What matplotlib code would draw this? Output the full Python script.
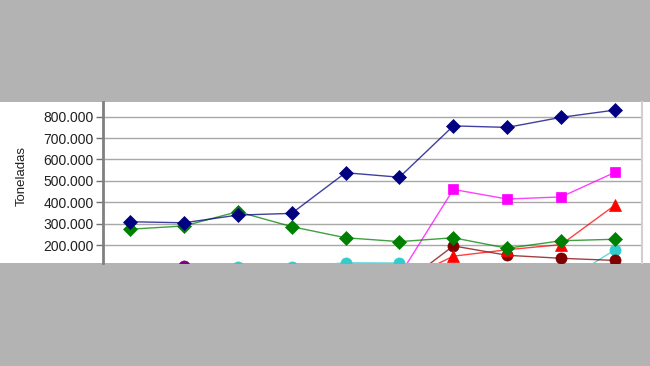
import matplotlib
matplotlib.use("Agg")
import matplotlib.pyplot as plt
from matplotlib.patches import Rectangle
from matplotlib.ticker import FixedLocator

plt.rcParams['font.family'] = ['Liberation Sans', 'DejaVu Sans']

# categories (x labels are cut off in the reference, only the positions remain)
periods = list(range(10))

# series values in tonnes (low values are below the visible area)
serie_navy = [309000, 304000, 340000, 348000, 538000, 517000, 757000, 750000, 797000, 831000]
serie_green = [274000, 289000, 356000, 286000, 234000, 216000, 234000, 185000, 220000, 227000]
serie_magenta = [20000, 25000, 30000, 35000, 40000, 57000, 460000, 415000, 425000, 540000]
serie_red = [10000, 12000, 15000, 18000, 20000, 25000, 148000, 178000, 202000, 387000]
serie_maroon = [8000, 10000, 12000, 14000, 16000, 5000, 196000, 152000, 138000, 128000]
serie_cyan = [60000, 80000, 96000, 96000, 117000, 116000, 90000, 55000, 20000, 178000]
serie_purple = [80000, 101000, 85000, 70000, 60000, 50000, 40000, 30000, 25000, 20000]

ytick_values = [200000, 300000, 400000, 500000, 600000, 700000, 800000]
ytick_labels = ["200.000", "300.000", "400.000", "500.000", "600.000", "700.000", "800.000"]

fig = plt.figure(figsize=(6.5, 3.66), dpi=100)
fig.patch.set_facecolor('#b3b3b3')

# white band of the visible chart area
band = Rectangle((0, 103 / 366), 1, 161 / 366, transform=fig.transFigure,
                 facecolor='white', edgecolor='none', zorder=-10)
fig.add_artist(band)

ax = fig.add_axes([103 / 650, 103 / 366, 539 / 650, 161 / 366])
ax.set_zorder(1)
ax.set_facecolor('white')

styles = [
    (serie_purple, '#800080', 'o', 8),
    (serie_cyan, '#33cccc', 'o', 8),
    (serie_maroon, '#800000', 'o', 8),
    (serie_red, '#ff0000', '^', 8),
    (serie_magenta, '#ff00ff', 's', 7.5),
    (serie_green, '#008000', 'D', 7),
    (serie_navy, '#000080', 'D', 7),
]
for i, (values, color, marker, size) in enumerate(styles):
    ax.plot(periods, values, color=color, lw=1.0, alpha=0.75, zorder=3 + i * 0.1)
    ax.plot(periods, values, linestyle='none', marker=marker, markersize=size,
            markerfacecolor=color, markeredgecolor=color, markeredgewidth=0.5,
            zorder=3 + i * 0.1 + 0.05)

ax.set_xlim(-0.5, 9.5)
ax.set_ylim(116000, 868700)
ax.yaxis.set_major_locator(FixedLocator(ytick_values))
ax.set_yticklabels(ytick_labels, fontsize=10, color='#202020')
ax.set_xticks([])
ax.grid(axis='y', color='#a8a8a8', lw=1.0)
ax.set_axisbelow(True)
ax.tick_params(axis='y', length=5, width=1, color='#707070', pad=1.5)

for side in ['top', 'bottom']:
    ax.spines[side].set_visible(False)
ax.spines['left'].set_color('#808080')
ax.spines['left'].set_linewidth(2)
ax.spines['right'].set_color('#d0d0d0')
ax.spines['right'].set_linewidth(1.5)

fig.text(22 / 650, 1 - 176 / 366, "Toneladas", rotation=90, fontsize=9.5,
         color='#202020', ha='center', va='center')

fig.savefig("out.png", dpi=100, facecolor=fig.get_facecolor())
